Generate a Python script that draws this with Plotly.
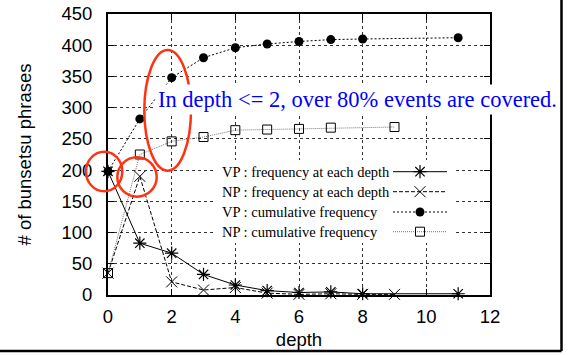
import plotly.graph_objects as go

# ---- data ----
vp_freq_x = [0, 1, 2, 3, 4, 5, 6, 7, 8, 11]
vp_freq_y = [198, 83, 67, 33, 16, 7, 4, 5, 2, 2]
np_freq_x = [0, 1, 2, 3, 4, 5, 6, 7, 8, 9]
np_freq_y = [35, 190, 21, 8, 12, 3, 1, 2, 1, 1]
vp_cum_x = [0, 1, 2, 3, 4, 5, 6, 7, 8, 11]
vp_cum_y = [198, 282, 348, 380, 396, 402, 406, 409, 410, 412]
np_cum_x = [0, 1, 2, 3, 4, 5, 6, 7, 9]
np_cum_y = [35, 225, 246, 253, 264, 265, 266, 268, 269]

legend_labels = ["VP : frequency at each depth", "NP : frequency at each depth",
                 "VP : cumulative frequency", "NP : cumulative frequency"]
note_text = "In depth <= 2, over 80% events are covered."
x_title = "depth"
y_title = "# of bunsetsu phrases"
x_ticks = [0, 2, 4, 6, 8, 10, 12]
y_ticks = [0, 50, 100, 150, 200, 250, 300, 350, 400, 450]

# ---- layout geometry (page pixels; body margin removed by post_script) ----
PAGE_W, PAGE_H = 569, 355
L, R, T, B = 108, 490, 14, 295
XR = (0, 12)
YR = (0, 450)


def px_x(p):
    return (p - L) / (R - L)


def px_y(p):
    return (B - p) / (B - T)


SERIF = "Liberation Serif"
SANS = "Liberation Sans"

styles = [
    dict(line=dict(color="black", width=1), marker=dict(symbol="asterisk-open", size=11, color="black", line=dict(width=1.2, color="black"))),
    dict(line=dict(color="black", width=1, dash="4px,2px"), marker=dict(symbol="x-thin-open", size=11, color="black", line=dict(width=1, color="black"))),
    dict(line=dict(color="black", width=1, dash="2px,2px"), marker=dict(symbol="circle", size=9, color="black")),
    dict(line=dict(color="#777", width=1, dash="1px,1px"), marker=dict(symbol="square-open", size=9, color="black", line=dict(width=1, color="black"))),
]

fig = go.Figure()
series = [(vp_freq_x, vp_freq_y), (np_freq_x, np_freq_y), (vp_cum_x, vp_cum_y), (np_cum_x, np_cum_y)]
for (xs, ys), st, name in zip(series, styles, legend_labels):
    fig.add_trace(go.Scatter(x=xs, y=ys, mode="lines+markers", name=name,
                             line=st["line"], marker=st["marker"], showlegend=False,
                             cliponaxis=False))

# legend white box (covers the grid) in a pixel-space overlay axis
fig.add_trace(go.Scatter(x=[214, 455, 455, 214, 214], y=[160, 160, 243, 243, 160], mode="lines",
                         fill="toself", fillcolor="white", line=dict(width=0, color="white"),
                         xaxis="x2", yaxis="y2", showlegend=False, hoverinfo="skip"))
# legend samples (gnuplot style: text then sample)
leg_rows = [171.7, 191.7, 212, 231.7]
for row, st in zip(leg_rows, styles):
    fig.add_trace(go.Scatter(x=[393, 447], y=[row, row], mode="lines", line=st["line"],
                             xaxis="x2", yaxis="y2", showlegend=False, hoverinfo="skip"))
    fig.add_trace(go.Scatter(x=[420], y=[row], mode="markers", marker=st["marker"],
                             xaxis="x2", yaxis="y2", showlegend=False, hoverinfo="skip"))

shapes = []
# red ellipses
red = "#ff3311"
for (x0, x1, y0, y1) in [(86, 122.3, 151.7, 191.3), (117.3, 156.7, 157.3, 196.7), (144.3, 191, 50, 170.7)]:
    shapes.append(dict(type="circle", xref="paper", yref="paper", x0=px_x(x0), x1=px_x(x1),
                       y0=px_y(y1), y1=px_y(y0), line=dict(color=red, width=2.5), layer="above"))
# picture frame (right and bottom)
shapes.append(dict(type="line", xref="paper", yref="paper", x0=px_x(0), x1=px_x(561.5),
                   y0=px_y(351), y1=px_y(351), line=dict(color="black", width=2.5)))
shapes.append(dict(type="line", xref="paper", yref="paper", x0=px_x(561.5), x1=px_x(561.5),
                   y0=px_y(351), y1=px_y(0), line=dict(color="black", width=2.5)))

annotations = []
for row, lab in zip(leg_rows, legend_labels):
    annotations.append(dict(text=lab, xref="paper", yref="paper", x=px_x(220), y=px_y(row),
                            xanchor="left", yanchor="middle", showarrow=False,
                            font=dict(family=SERIF, size=14.5, color="black")))
annotations.append(dict(text=note_text, xref="paper", yref="paper", x=px_x(357.5), y=px_y(99),
                        xanchor="center", yanchor="middle", showarrow=False, bgcolor="white",
                        borderpad=2, font=dict(family=SERIF, size=22.5, color="#0000ff")))

axis_common = dict(showline=True, linecolor="black", linewidth=2, mirror="ticks",
                   ticks="inside", ticklen=6, tickcolor="black", showgrid=True,
                   gridcolor="#333", griddash="dot", gridwidth=1, zeroline=False,
                   automargin=False, ticklabeloverflow="allow",
                   tickfont=dict(family=SANS, size=18.5, color="black"))

fig.update_layout(
    width=PAGE_W, height=PAGE_H, autosize=False,
    margin=dict(l=L, r=PAGE_W - R, t=T, b=PAGE_H - B, pad=0),
    paper_bgcolor="white", plot_bgcolor="white",
    xaxis=dict(range=list(XR), tickvals=x_ticks, ticklabelstandoff=4,
               title=dict(text=x_title, font=dict(family=SANS, size=18.5, color="black"), standoff=7),
               **axis_common),
    yaxis=dict(range=list(YR), tickvals=y_ticks, ticklabelstandoff=10,
               title=dict(text=y_title, font=dict(family=SANS, size=18.5, color="black"), standoff=25),
               **axis_common),
    xaxis2=dict(range=[L, R], overlaying="x", visible=False, fixedrange=True),
    yaxis2=dict(range=[B, T], overlaying="y", visible=False, fixedrange=True),
    shapes=shapes, annotations=annotations, showlegend=False,
)

fig.write_html("out.html", config={"displayModeBar": False},
               post_script="document.body.style.margin='0px';document.body.style.overflow='hidden';")
